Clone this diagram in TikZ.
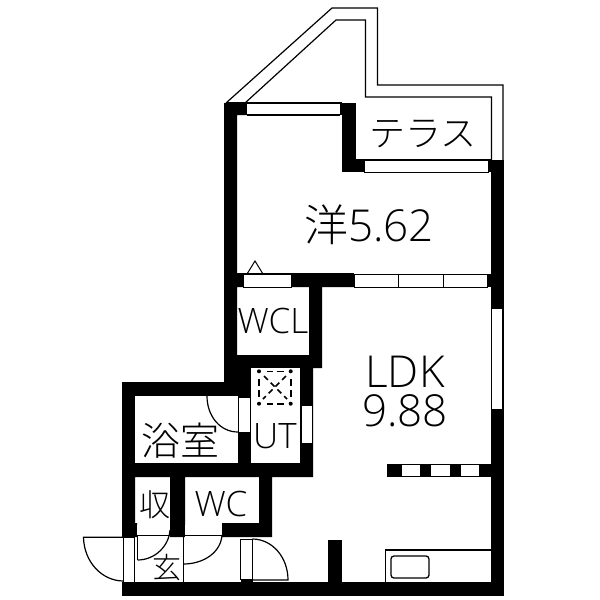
\documentclass[tikz,border=0pt]{standalone}
\usepackage{fontspec}
\setmainfont{Open Sans Light}
\newfontfamily\jp{Noto Sans CJK JP}[UprightFont=* Light]
\tikzset{
  wall/.style={fill=black,draw=none},
  win/.style={fill=white,draw=black,line width=1pt},
  thin/.style={draw=black,line width=1.2pt},
  door/.style={draw=black,line width=1.2pt},
  ventedge/.style={draw=black,line width=1.6pt,dash pattern=on 0pt off 7.7pt on 6.6pt off 4pt on 7pt off 100pt},
  ventcross/.style={draw=black,line width=1.5pt,dash pattern=on 5.5pt off 4pt},
  lbl/.style={inner sep=0pt,text=black}
}
\begin{document}
\begin{tikzpicture}[x=1pt,y=-1pt]
\useasboundingbox (0,0) rectangle (600,600);
% terrace parapet
\draw[thin,line join=miter] (226,103) -- (332,8) -- (377.5,8) -- (377.5,85) -- (503,85) -- (503,162);
\draw[thin,line join=miter] (245,103) -- (336,20) -- (365.5,20) -- (365.5,97) -- (491.5,97) -- (491.5,162);
\draw[thin] (356,160) -- (491,160);
% walls
\fill[wall] (224,103) -- (247,103) -- (247,115) -- (237,115) -- (237,274) -- (243,274) -- (243,287) -- (237,287) -- (237,355) -- (309,355) -- (309,287) -- (291,287) -- (291,274) -- (354,274) -- (354,287) -- (322,287) -- (322,368) -- (313,368) -- (313,477) -- (272,477) -- (272,537) -- (222,537) -- (222,523) -- (259,523) -- (259,477) -- (185,477) -- (185,537) -- (170,537) -- (170,477) -- (135,477) -- (135,523) -- (137,523) -- (137,537) -- (122,537) -- (122,382) -- (224,382) -- cycle;
\fill[wall] (340,103) rectangle (356,115);
\fill[wall] (342,103) rectangle (356,172);
\fill[wall] (342,160) rectangle (364,172);
\fill[wall] (488,160) rectangle (503.5,172);
\fill[wall] (491,160) rectangle (503.5,596);
\fill[wall] (486,274) rectangle (503.5,287);
\fill[wall] (387,463.5) rectangle (491,477);
\fill[wall] (328,540) rectangle (342,582);
\fill[wall] (122,582) rectangle (503.5,596);
\fill[wall] (240.5,579) rectangle (252.5,582);
% rooms cut out of the wall mass
\fill[white] (135,396) rectangle (237.5,463);
\fill[white] (251,368) rectangle (300,463);
% windows
\fill[white] (247,104) rectangle (340,115);
\draw[thin] (226,103) -- (342,103);
\draw[thin] (247,115) -- (340,115);
\draw[win] (364,160.5) rectangle (488,172);
\draw[win] (243,274.5) rectangle (291,287);
\draw[win] (354,274.5) rectangle (398,287);
\draw[win] (398,274.5) rectangle (443,287);
\draw[win] (443,274.5) rectangle (487,287);
\draw[thin] (237,274) -- (354,274);
\draw[win] (491.5,308.5) rectangle (502,409);
\draw[win] (301,405) rectangle (312,443);
\draw[win] (238,397) rectangle (250,432);
\fill[white] (402,465) rectangle (420,476);
\fill[white] (431,465) rectangle (450,476);
\fill[white] (461,465) rectangle (479,476);
\draw[win] (123.5,537) rectangle (134,582);
\draw[win] (240.7,539) rectangle (252.3,579);
% small mark above left window
\draw[thin,line width=1pt] (247,274) -- (255,261) -- (263,274);
% bath door
\draw[door] (207,396) .. controls (207,416) and (220,432) .. (238,432);
% ventilation mark
\foreach \vx/\vy in {259/371.3,290.7/371.3,259/403.7,290.7/403.7}
  \fill[black] (\vx,\vy) circle[radius=2pt];
\draw[ventedge] (259,371.3) -- (290.7,371.3);
\draw[ventedge] (259,403.7) -- (290.7,403.7);
\draw[ventedge] (259,371.3) -- (259,403.7);
\draw[ventedge] (290.7,371.3) -- (290.7,403.7);
\draw[ventcross] (264,376) -- (287,399);
\draw[ventcross] (286,376) -- (263,399);
% entrance lines
\fill[white] (137,525) rectangle (170,537);
\fill[white] (185,525) rectangle (222,537);
\draw[thin] (137,535.5) -- (171,535.5);
\draw[thin] (183.5,535.5) -- (222,535.5);
\draw[thin] (183.5,537) -- (183.5,582);
% doors
\draw[door] (123.5,537.3) -- (83.5,537.3) .. controls (84,562) and (102,581) .. (123.5,581);
\draw[door,line width=1.8pt] (137.5,535) -- (137.5,560);
\draw[door] (137.5,560) .. controls (155,560) and (169,546) .. (170,530);
\draw[door] (183.5,564) .. controls (204,564) and (221,552) .. (222,535);
\draw[door] (252.3,580) -- (288,580) .. controls (288,557) and (272,539) .. (252.3,539);
% kitchen
\draw[thin] (385.5,582) -- (385.5,550) -- (491,550);
\draw[thin,rounded corners=3pt,line width=1.3pt] (391,556) rectangle (429,578);
% labels
\node[lbl,font=\jp\fontsize{44}{44}\selectfont] (hall) at (369,225) {洋\rmfamily 5.62};
\node[lbl,font=\jp\fontsize{36}{36}\selectfont] (terr) at (423,134) {テラス};
\node[lbl,align=center,font=\fontsize{44}{39}\selectfont] (ldk) at (405,392) {LDK\\9.88};
\node[lbl,font=\fontsize{35}{35}\selectfont] (wcl) at (273,321) {WCL};
\node[lbl,font=\fontsize{35}{35}\selectfont] (ut) at (275,436) {UT};
\node[lbl,font=\fontsize{35}{35}\selectfont] (wc) at (221,504) {WC};
\node[lbl,font=\jp\fontsize{39}{39}\selectfont] (bath) at (180,441) {浴室};
\node[lbl,font=\jp\fontsize{31}{31}\selectfont] (sh) at (155,505) {収};
\node[lbl,font=\jp\fontsize{29}{29}\selectfont] (gen) at (167,568) {玄};
\end{tikzpicture}
\end{document}
